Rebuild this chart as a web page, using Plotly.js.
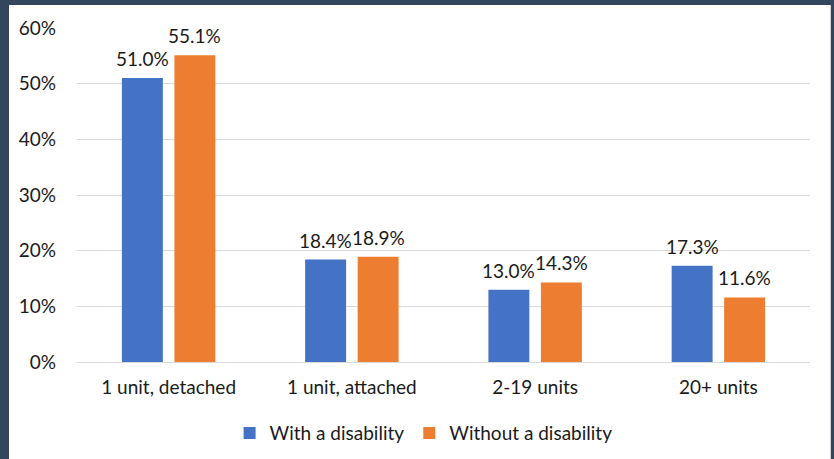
<!DOCTYPE html>
<html><head><meta charset="utf-8">
<script src="https://cdn.plot.ly/plotly-3.0.1.min.js"></script>
<style>
html,body{margin:0;padding:0;width:834px;height:459px;background:#33465e;overflow:hidden}
#frame{position:absolute;left:9px;top:5px;width:821px;height:454px;background:#fff;border-right:1px solid #d0d0d0}
#chart{width:821px;height:454px}
</style></head>
<body><div id="frame"><div id="chart"></div></div>
<script>
const categories = ["1 unit, detached", "1 unit, attached", "2-19 units", "20+ units"];
const withDisability = [51.0, 18.4, 13.0, 17.3];
const withoutDisability = [55.1, 18.9, 14.3, 11.6];
const seriesNames = ["With a disability", "Without a disability"];
const yTicks = [0, 10, 20, 30, 40, 50, 60];

const FAM = "Lato, 'Open Sans', sans-serif";
const TXT = "#1a1a1a";
function mk(vals, name, color){
  return {type:"bar", x:categories, y:vals, name:name, marker:{color:color}, hoverinfo:"skip"};
}
const data=[mk(withDisability, seriesNames[0], "#4472C4"), mk(withoutDisability, seriesNames[1], "#ED7D31")];
const annotations=[];
[[withDisability,-26.25],[withoutDisability,26.25]].forEach(([vals,dx])=>{
  vals.forEach((v,i)=>annotations.push({x:categories[i], y:v, xref:"x", yref:"y", text:v.toFixed(1)+"%",
    showarrow:false, xshift:dx, yanchor:"bottom", yshift:6, font:{family:FAM,size:19,color:TXT}}));
});
const layout={
  width:821, height:454,
  margin:{l:68, r:20, t:23, b:97},
  paper_bgcolor:"#fff", plot_bgcolor:"#fff",
  font:{family:FAM, size:19, color:TXT},
  barmode:"group", bargap:0.427, bargroupgap:0.22,
  showlegend:true,
  legend:{orientation:"h", xref:"container", yref:"container", x:0.505, xanchor:"center", y:0.057, yanchor:"middle",
    font:{family:FAM,size:19,color:TXT}, itemwidth:30, traceorder:"normal"},
  annotations:annotations,
  xaxis:{showgrid:false, showline:false, ticks:"", tickfont:{size:19}, zeroline:false, ticklabelstandoff:12},
  yaxis:{range:[0,60], tickvals:yTicks, ticktext:yTicks.map(v=>v+"%"), showgrid:true, gridcolor:"#d9d9d9", gridwidth:1,
    zeroline:true, zerolinecolor:"#d9d9d9", zerolinewidth:1, showline:false, ticks:"", ticklabelstandoff:20, tickfont:{size:19}}
};
Plotly.newPlot("chart", data, layout, {staticPlot:true, displayModeBar:false});
</script></body></html>
